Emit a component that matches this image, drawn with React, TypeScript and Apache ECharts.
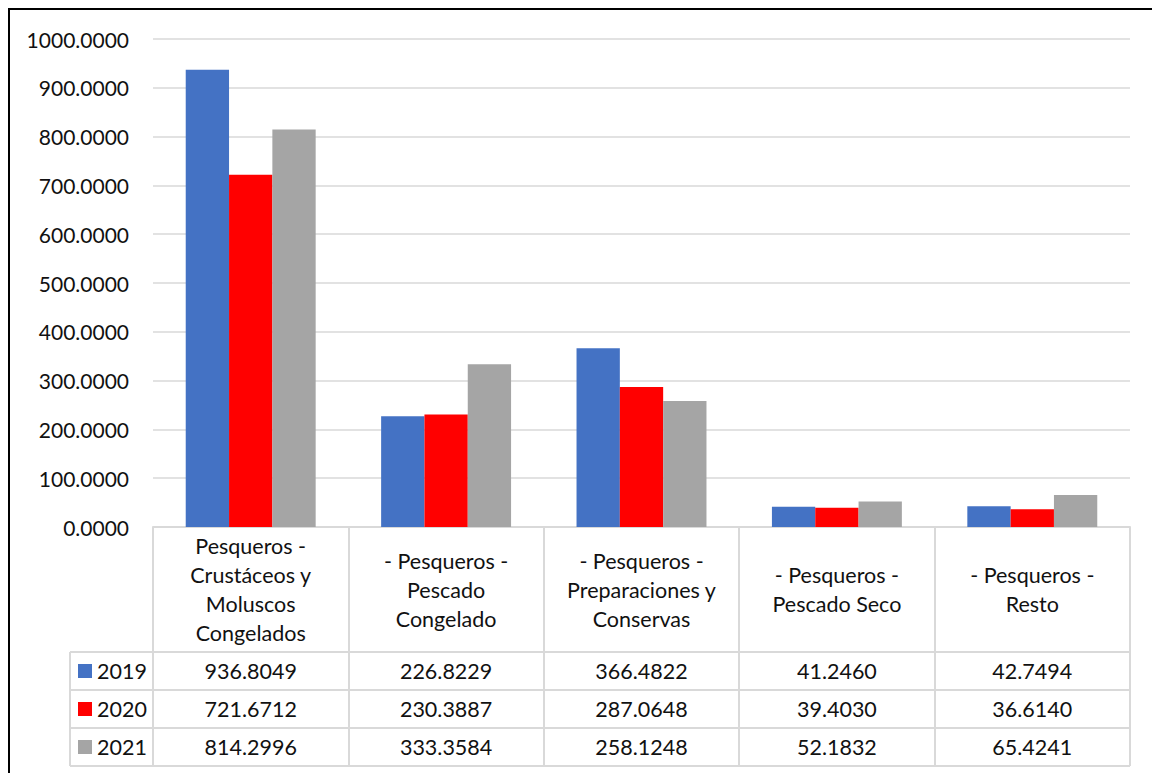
import React, { useEffect, useRef } from "react";
import * as echarts from "echarts";

const categories = [
  "Pesqueros - Crustáceos y Moluscos Congelados",
  "- Pesqueros - Pescado Congelado",
  "- Pesqueros - Preparaciones y Conservas",
  "- Pesqueros - Pescado Seco",
  "- Pesqueros - Resto",
];
const categoryLabels = [
  "Pesqueros -\nCrustáceos y\nMoluscos\nCongelados",
  "- Pesqueros -\nPescado\nCongelado",
  "- Pesqueros -\nPreparaciones y\nConservas",
  "- Pesqueros -\nPescado Seco",
  "- Pesqueros -\nResto",
];
const seriesNames = ["2019", "2020", "2021"];
const values2019 = [936.8049, 226.8229, 366.4822, 41.246, 42.7494];
const values2020 = [721.6712, 230.3887, 287.0648, 39.403, 36.614];
const values2021 = [814.2996, 333.3584, 258.1248, 52.1832, 65.4241];
const colors = ["#4472C4", "#FF0000", "#A5A5A5"];
const yTicks = [0, 100, 200, 300, 400, 500, 600, 700, 800, 900, 1000];

const FONT = "Lato";
const TEXT = "#111";
const LINE = "#d9d9d9";
const TABLE_FS = 21.5;

export default function App() {
  const ref = useRef<HTMLDivElement>(null);
  useEffect(() => {
    if (!ref.current) return;
    const chart = echarts.init(ref.current, undefined, { renderer: "svg" });
    const allValues = [values2019, values2020, values2021];

    const gridLeft = 153;
    const gridRight = 1130;
    const axisY = 527;
    const rowTops = [652, 690, 728, 766];
    const tableLeft = 70;

    const valueAxes = allValues.map((vals, i) => ({
      type: "category" as const,
      gridIndex: 0,
      position: "bottom" as const,
      data: categories,
      axisLine: { show: false },
      axisTick: { show: false },
      axisLabel: {
        interval: 0,
        margin: (rowTops[i] + rowTops[i + 1]) / 2 - axisY,
        verticalAlign: "middle" as const,
        fontFamily: FONT,
        fontSize: TABLE_FS,
        color: TEXT,
        formatter: (_v: string, idx: number) => vals[idx].toFixed(4),
      },
    }));

    const graphics: any[] = [
      {
        type: "rect",
        shape: { x: 9, y: 9, width: 1200, height: 800 },
        style: { fill: "none", stroke: "#000", lineWidth: 2 },
        silent: true,
      },
      {
        type: "line",
        shape: { x1: tableLeft, y1: rowTops[0], x2: tableLeft, y2: rowTops[3] },
        style: { stroke: LINE, lineWidth: 2 },
      },
    ];
    rowTops.forEach((y) => {
      graphics.push({
        type: "line",
        shape: { x1: tableLeft, y1: y, x2: gridRight, y2: y },
        style: { stroke: LINE, lineWidth: 2 },
      });
    });
    seriesNames.forEach((name, i) => {
      const cy = (rowTops[i] + rowTops[i + 1]) / 2;
      graphics.push({
        type: "rect",
        shape: { x: 78, y: cy - 7, width: 14, height: 14 },
        style: { fill: colors[i] },
      });
      graphics.push({
        type: "text",
        x: 97,
        y: cy,
        style: {
          text: name,
          fontFamily: FONT,
          fontSize: TABLE_FS,
          fill: TEXT,
          verticalAlign: "middle",
          align: "left",
        },
      });
    });

    chart.setOption({
      animation: false,
      textStyle: { fontFamily: FONT },
      grid: {
        left: gridLeft,
        right: 1152 - gridRight,
        top: 39,
        bottom: 773 - axisY,
        containLabel: false,
      },
      xAxis: [
        {
          type: "category",
          gridIndex: 0,
          position: "bottom",
          data: categories,
          axisLine: { show: true, lineStyle: { color: LINE, width: 2 } },
          axisTick: {
            show: true,
            interval: 0,
            length: rowTops[3] - axisY,
            lineStyle: { color: LINE, width: 2 },
          },
          axisLabel: {
            interval: 0,
            margin: (rowTops[0] - axisY) / 2,
            verticalAlign: "middle",
            align: "center",
            fontFamily: FONT,
            fontSize: TABLE_FS,
            lineHeight: 29,
            color: TEXT,
            formatter: (_v: string, idx: number) => categoryLabels[idx],
          },
        },
        ...valueAxes,
      ],
      yAxis: {
        type: "value",
        min: yTicks[0],
        max: yTicks[yTicks.length - 1],
        interval: 100,
        axisLine: { show: false },
        axisTick: { show: false },
        splitLine: { lineStyle: { color: LINE, width: 1.5 } },
        axisLabel: {
          margin: 24,
          fontFamily: FONT,
          fontSize: 21,
          color: TEXT,
          formatter: (v: number) => v.toFixed(4),
        },
      },
      series: allValues.map((vals, i) => ({
        name: seriesNames[i],
        type: "bar",
        xAxisIndex: 0,
        yAxisIndex: 0,
        data: vals,
        barGap: "0%",
        barCategoryGap: "33.5%",
        itemStyle: { color: colors[i] },
      })),
      graphic: graphics,
    });
    return () => chart.dispose();
  }, []);
  return (
    <div
      ref={ref}
      style={{ position: "fixed", left: 0, top: 0, width: 1152, height: 773, background: "#fff" }}
    />
  );
}
